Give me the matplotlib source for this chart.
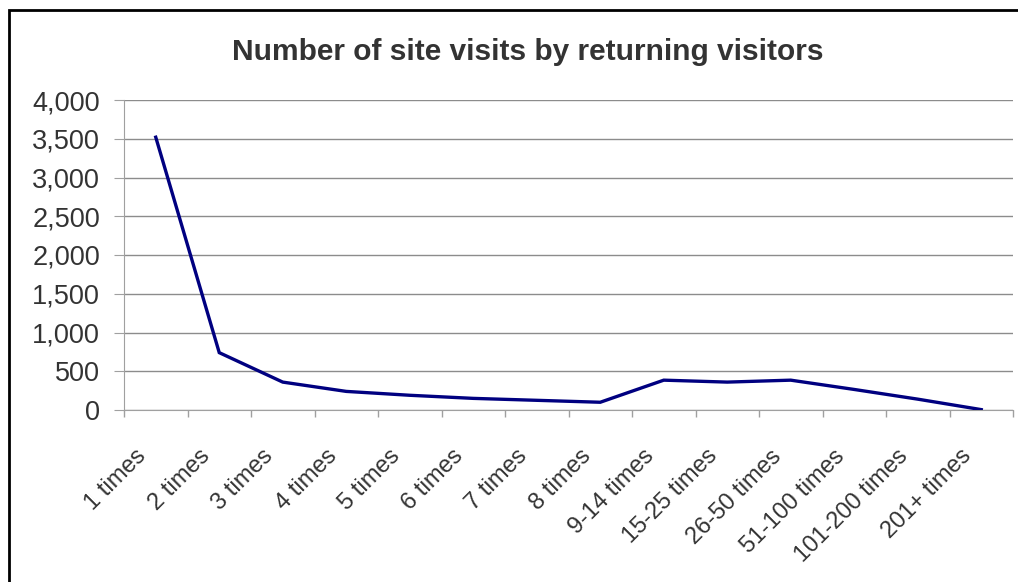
import matplotlib.pyplot as plt
from matplotlib.ticker import FuncFormatter, FixedLocator, NullFormatter
from matplotlib.patches import Rectangle
from matplotlib.transforms import ScaledTranslation

plt.rcParams['font.family'] = ['Liberation Sans', 'DejaVu Sans']

categorias = ['1 times', '2 times', '3 times', '4 times', '5 times', '6 times',
              '7 times', '8 times', '9-14 times', '15-25 times', '26-50 times',
              '51-100 times', '101-200 times', '201+ times']
visitas = [3520, 740, 360, 240, 190, 150, 125, 100, 385, 360, 385, 265, 140, 5]
yTicks = [0, 500, 1000, 1500, 2000, 2500, 3000, 3500, 4000]

fig = plt.figure(figsize=(10.18, 5.82), dpi=100)
ax = fig.add_axes([124/1018, 1 - 410/582, 889/1018, 310/582])

# moldura do grafico (cortada a direita e embaixo, como no original)
fig.patches.append(Rectangle((9/1018, -0.05), 1.0, 1 - 10/582 + 0.05,
                             transform=fig.transFigure, fill=False,
                             edgecolor='black', linewidth=2))

x = list(range(len(categorias)))
ax.plot(x, visitas, color='#000080', linewidth=2.4, solid_joinstyle='miter', zorder=3)

ax.set_xlim(-0.5, len(categorias) - 0.5)
ax.set_ylim(0, 4000)
ax.set_yticks(yTicks)
ax.yaxis.set_major_formatter(FuncFormatter(lambda v, p: '{:,.0f}'.format(v)))
ax.grid(axis='y', color='#8c8c8c', linewidth=1)
ax.set_axisbelow(True)

# rotulos das categorias inclinados, como no Excel
ax.set_xticks([])
desloc = ScaledTranslation(-13/100, -43/100, fig.dpi_scale_trans)
for i, nome in enumerate(categorias):
    ax.text(i, 0, nome, transform=ax.get_xaxis_transform() + desloc,
            rotation=45, ha='right', va='center', rotation_mode='anchor',
            fontsize=17, color='#333333', clip_on=False)

ax.xaxis.set_minor_locator(FixedLocator([i - 0.5 for i in range(len(categorias) + 1)]))
ax.xaxis.set_minor_formatter(NullFormatter())
ax.tick_params(axis='x', which='minor', length=5, color='#a0a0a0', width=1)
ax.tick_params(axis='y', length=7.2, color='#a0a0a0', labelsize=19.5, labelcolor='#333333', pad=10)

for lado in ['top', 'right']:
    ax.spines[lado].set_visible(False)
for lado in ['left', 'bottom']:
    ax.spines[lado].set_color('#a0a0a0')

fig.text(528/1018, 1 - 52/582, 'Number of site visits by returning visitors',
         ha='center', va='center', fontsize=21.5, fontweight='bold', color='#333333')

fig.savefig('out.png', dpi=100)
